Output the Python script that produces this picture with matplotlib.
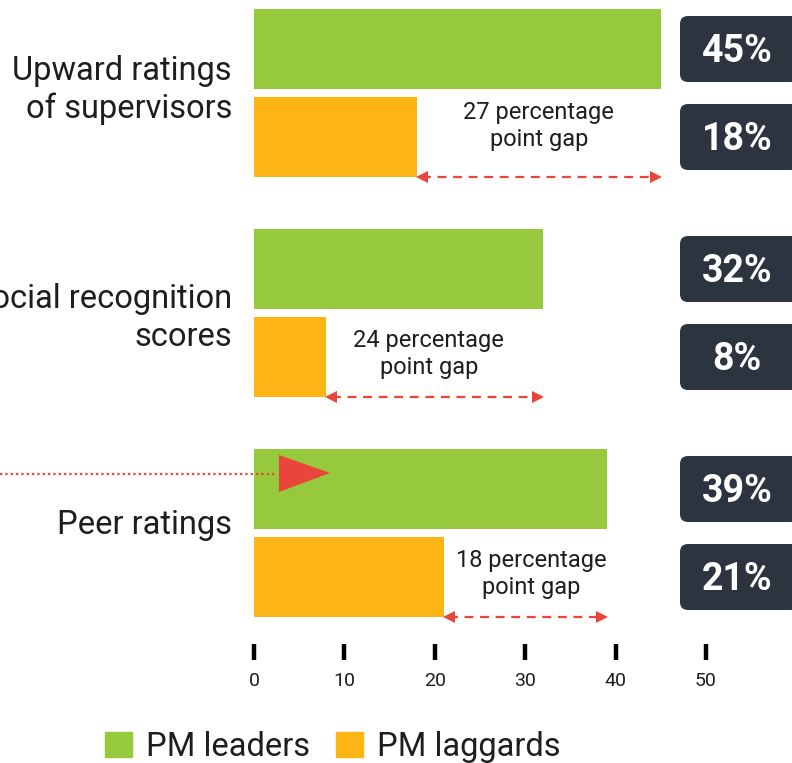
import matplotlib.pyplot as plt
from matplotlib.patches import FancyBboxPatch, Polygon, Patch

plt.rcParams['font.family'] = ['Roboto', 'DejaVu Sans']

# data
categories = ['Upward ratings\nof supervisors', 'Social recognition\nscores', 'Peer ratings']
leaders = [45, 32, 39]
laggards = [18, 8, 21]
ticks = [0, 10, 20, 30, 40, 50]

green = '#97C93D'
orange = '#FDB515'
red = '#E9453B'
dark = '#2C3440'
txt = '#1E1E1E'

fig = plt.figure(figsize=(7.92, 7.63), dpi=100)

# bars axis: x in data units, y in pixel rows
ax = fig.add_axes([0, 0, 1, 1])
px = 9.04  # pixels per percentage point
ax.set_xlim(-254 / px, 538 / px)
ax.set_ylim(763, 0)
ax.axis('off')

# overlay axis in pixels for labels and badges
ov = fig.add_axes([0, 0, 1, 1], zorder=3)
ov.set_xlim(0, 792)
ov.set_ylim(763, 0)
ov.axis('off')
ov.patch.set_alpha(0)

y_lead = [49 + 220 * i for i in range(3)]
y_lag = [137 + 220 * i for i in range(3)]

ax.barh(y_lead, leaders, height=80, color=green)
ax.barh(y_lag, laggards, height=80, color=orange)

# category labels
lab_y = [90, 318, 525]
for c, y in zip(categories, lab_y):
    ov.text(232, y, c, ha='right', va='center', fontsize=23.5, color=txt,
            linespacing=1.24)

# gap arrows and notes
note_y = [126, 354, 574]
note_dx = [0, -0.65, 0.65]
for i in range(3):
    ya = y_lag[i] + 40
    lo, hi = laggards[i], leaders[i]
    ax.plot([lo + 0.6, hi - 0.6], [ya, ya], color=red, lw=1.6, ls=(0, (4, 3)))
    ax.plot([lo + 0.55], [ya], marker='<', ms=8, color=red, mew=0)
    ax.plot([hi - 0.55], [ya], marker='>', ms=8, color=red, mew=0)
    ax.text((lo + hi) / 2 + note_dx[i], note_y[i], f'{hi - lo} percentage\npoint gap',
            ha='center', va='center', fontsize=17, color=txt, linespacing=1.25)

# value badges
for vals, ys in [(leaders, y_lead), (laggards, y_lag)]:
    for v, y in zip(vals, ys):
        ov.add_patch(FancyBboxPatch((680, y - 33), 118, 66,
                                    boxstyle='round,pad=0,rounding_size=8',
                                    fc=dark, ec='none'))
        ov.text(737, y + 3, f'{v}%', ha='center', va='center', fontsize=27,
                fontweight='bold', color='white')

# pointer on the third group
ov.plot([0, 275], [474, 474], color=red, lw=1.6, ls=(0, (1, 1.4)))
ov.add_patch(Polygon([(279, 455), (279, 492), (330, 473)], closed=True,
                     fc=red, ec='none'))

# x ticks
ax.vlines(ticks, 644, 660, color='black', lw=3.2)
for t in ticks:
    ax.text(t, 681, str(t), ha='center', va='center', fontsize=14, color=txt)

# legend
handles = [Patch(color=green, label='PM leaders'),
           Patch(color=orange, label='PM laggards')]
fig.legend(handles=handles, loc='center', bbox_to_anchor=(333 / 792, 1 - 747 / 763),
           ncol=2, frameon=False, fontsize=23.5, handlelength=0.83,
           handleheight=0.83, handletextpad=0.43, columnspacing=0.8,
           borderpad=0, borderaxespad=0, labelcolor=txt)

fig.savefig('out.png', dpi=100)
